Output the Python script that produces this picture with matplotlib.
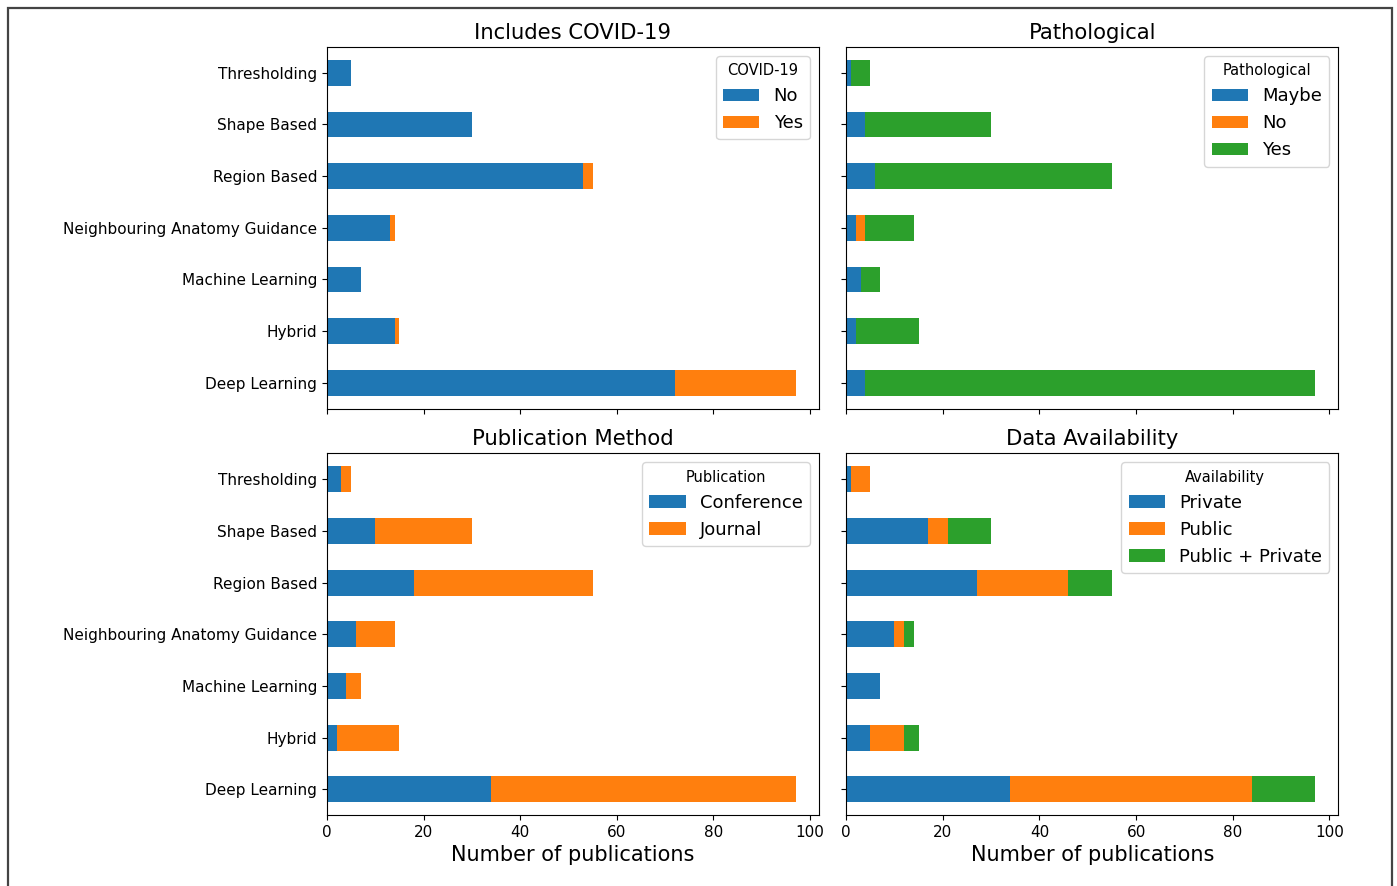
import matplotlib
matplotlib.use("Agg")
import matplotlib.pyplot as plt
import pandas as pd
from matplotlib.patches import Rectangle

# Segmentation method groups, listed bottom to top as drawn by barh
methods = ["Deep Learning", "Hybrid", "Machine Learning",
           "Neighbouring Anatomy Guidance", "Region Based",
           "Shape Based", "Thresholding"]

# Includes COVID-19
covid_no = [72, 14, 7, 13, 53, 30, 5]
covid_yes = [25, 1, 0, 1, 2, 0, 0]

# Pathological
path_maybe = [4, 2, 3, 2, 6, 4, 1]
path_no = [0, 0, 0, 2, 0, 0, 0]
path_yes = [93, 13, 4, 10, 49, 26, 4]

# Publication method
pub_conference = [34, 2, 4, 6, 18, 10, 3]
pub_journal = [63, 13, 3, 8, 37, 20, 2]

# Data availability
avail_private = [34, 5, 7, 10, 27, 17, 1]
avail_public = [50, 7, 0, 2, 19, 4, 4]
avail_both = [13, 3, 0, 2, 9, 9, 0]

panels = [
    ("Includes COVID-19", "COVID-19",
     pd.DataFrame({"No": covid_no, "Yes": covid_yes}, index=methods)),
    ("Pathological", "Pathological",
     pd.DataFrame({"Maybe": path_maybe, "No": path_no, "Yes": path_yes}, index=methods)),
    ("Publication Method", "Publication",
     pd.DataFrame({"Conference": pub_conference, "Journal": pub_journal}, index=methods)),
    ("Data Availability", "Availability",
     pd.DataFrame({"Private": avail_private, "Public": avail_public,
                   "Public + Private": avail_both}, index=methods)),
]

fig, axes = plt.subplots(2, 2, figsize=(13.97, 8.86), dpi=100, sharex=True, sharey=True)
fig.subplots_adjust(left=0.234, right=0.958, top=0.947, bottom=0.080,
                    wspace=0.055, hspace=0.124)

for ax, (title, legend_title, df) in zip(axes.flat, panels):
    df.plot(kind="barh", stacked=True, ax=ax, width=0.5)
    ax.set_title(title, fontsize=15.2)
    ax.set_ylabel("")
    ax.tick_params(axis="both", labelsize=11)
    ax.legend(title=legend_title, fontsize=13, title_fontsize=10.5, loc="upper right")

for ax in axes[1]:
    ax.set_xlabel("Number of publications", fontsize=15)

# frame around the whole figure
W, H = 1397, 886
fig.patches.append(Rectangle((7.5 / W, -0.02), (1392 - 7.5) / W, 1 - 7.5 / H + 0.02,
                             transform=fig.transFigure, fill=False,
                             edgecolor="#444444", linewidth=1.6, clip_on=False))

fig.savefig("out.png", dpi=100)
